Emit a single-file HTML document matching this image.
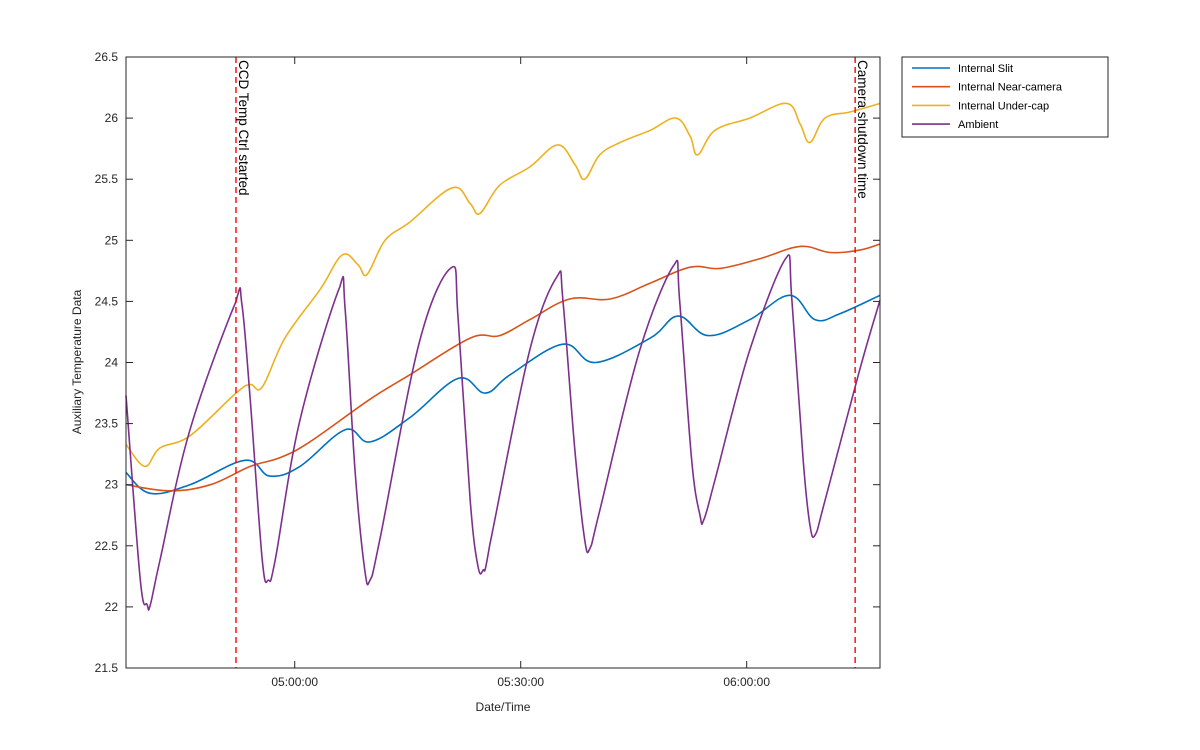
<!DOCTYPE html>
<html><head><meta charset="utf-8"><style>
body{margin:0;background:#fff}
svg{display:block;font-family:"Liberation Sans",Arial,sans-serif}
</style></head><body>
<svg id="chart" width="1200" height="750" xmlns="http://www.w3.org/2000/svg">
<rect x="0" y="0" width="1200" height="750" fill="#fff"/>
<g id="plot"></g>
</svg>
<script>
// minutes since 04:00
const ambientT=[37.6,39.5,40.4,40.8,42.1,46.1,52.2,53.0,54.1,55.7,56.5,57.4,60.7,66.0,66.7,68.0,69.3,70.0,71.3,76.6,80.9,81.7,83.3,84.3,85.0,85.9,91.2,94.9,95.6,97.2,98.5,99.2,100.5,105.8,110.5,111.1,112.7,113.8,114.3,115.8,120.4,125.3,126.0,127.5,128.4,129.1,130.4,135.0,137.7];
const ambientV=[23.73,22.22,22.02,22.01,22.38,23.45,24.50,24.47,23.69,22.38,22.22,22.38,23.53,24.62,24.43,23.12,22.30,22.22,22.55,24.18,24.78,24.35,22.87,22.34,22.30,22.51,24.10,24.71,24.51,23.28,22.55,22.48,22.79,24.10,24.81,24.51,23.20,22.75,22.71,23.04,24.10,24.86,24.51,23.20,22.67,22.59,22.87,23.94,24.51];
const slitT=[37.6,40.8,46.1,53.4,56.7,60.7,66.7,70.0,75.3,81.7,85.3,88.6,95.6,99.9,107.2,110.9,114.9,120.4,125.7,129.1,132.4,137.7];
const slitV=[23.1,22.93,23.0,23.2,23.07,23.15,23.45,23.35,23.55,23.87,23.75,23.9,24.15,24.0,24.2,24.38,24.22,24.35,24.55,24.35,24.4,24.55];
const nearT=[37.6,43.4,48.8,54.1,58.0,62.0,70.0,75.3,83.3,87.2,91.2,96.5,101.9,107.2,112.5,116.5,121.8,127.1,131.1,135.0,137.7];
const nearV=[23.0,22.95,23.0,23.15,23.22,23.35,23.7,23.9,24.2,24.22,24.35,24.52,24.52,24.65,24.78,24.77,24.85,24.95,24.9,24.92,24.97];
const capT=[37.6,40.1,42.1,46.1,52.2,54.1,55.7,58.7,63.4,66.3,68.4,69.6,72.0,75.3,80.9,83.3,84.6,87.2,91.2,94.9,97.2,98.5,100.5,103.2,107.2,110.6,112.5,113.5,115.8,120.4,125.3,127.1,128.4,130.4,133.7,137.7];
const capV=[23.33,23.15,23.3,23.4,23.75,23.82,23.8,24.2,24.6,24.88,24.8,24.72,25.0,25.15,25.43,25.3,25.22,25.45,25.6,25.78,25.62,25.5,25.7,25.8,25.9,26.0,25.85,25.7,25.9,26.0,26.12,25.95,25.8,26.0,26.05,26.12];
const yTicks=[21.5,22,22.5,23,23.5,24,24.5,25,25.5,26,26.5];
const xTicks=[60,90,120];
const xTickLabels=["05:00:00","05:30:00","06:00:00"];
const markerT=[52.2,134.4];
const markerLabels=["CCD Temp Ctrl started","Camera shutdown time"];
const seriesNames=["Internal Slit","Internal Near-camera","Internal Under-cap","Ambient"];

const X0=126,X1=880,Y0=668,Y1=57,TMIN=37.6,TMAX=137.7,VMIN=21.5,VMAX=26.5;
const sx=t=>X0+(t-TMIN)/(TMAX-TMIN)*(X1-X0);
const sy=v=>Y0-(v-VMIN)/(VMAX-VMIN)*(Y0-Y1);
const NS="http://www.w3.org/2000/svg";
const g=document.getElementById('plot');
function mk(tag,attrs,parent){const e=document.createElementNS(NS,tag);for(const k in attrs)e.setAttribute(k,attrs[k]);(parent||g).appendChild(e);return e;}
function smooth(pts){
  let d='M'+pts[0][0].toFixed(1)+','+pts[0][1].toFixed(1);
  for(let i=0;i<pts.length-1;i++){
    const p0=pts[Math.max(0,i-1)],p1=pts[i],p2=pts[i+1],p3=pts[Math.min(pts.length-1,i+2)];
    const k=0.18;
    const c1=[p1[0]+(p2[0]-p0[0])*k,p1[1]+(p2[1]-p0[1])*k];
    const c2=[p2[0]-(p3[0]-p1[0])*k,p2[1]-(p3[1]-p1[1])*k];
    c1[0]=Math.min(Math.max(c1[0],p1[0]),p2[0]);c2[0]=Math.min(Math.max(c2[0],p1[0]),p2[0]);
    d+=` C${c1[0].toFixed(1)},${c1[1].toFixed(1)} ${c2[0].toFixed(1)},${c2[1].toFixed(1)} ${p2[0].toFixed(1)},${p2[1].toFixed(1)}`;
  }
  return d;
}

const colors=["#0072BD","#D95319","#EDB120","#7E2F8E"];
const data=[[slitT,slitV],[nearT,nearV],[capT,capV],[ambientT,ambientV]];
const snames=["series-internal-slit","series-internal-near-camera","series-internal-under-cap","series-ambient"];
data.forEach((d,i)=>{
  const pts=d[0].map((t,j)=>[sx(t),sy(d[1][j])]);
  const p=mk('path',{d:smooth(pts),fill:'none',stroke:colors[i],'stroke-width':1.6});
  
  
});
markerT.forEach((t,i)=>{
  const l=mk('line',{x1:sx(t),x2:sx(t),y1:Y1,y2:Y0,stroke:'#f00','stroke-width':1.4,'stroke-dasharray':'6,4'});
  
  
  const tx=mk('text',{x:0,y:0,'font-size':13.5,fill:'#000',transform:`translate(${sx(t)+3},60) rotate(90)`});
  tx.textContent=markerLabels[i];
  
  
});
const box=mk('rect',{x:X0,y:Y1,width:X1-X0,height:Y0-Y1,fill:'none',stroke:'#262626','stroke-width':1});


yTicks.forEach(v=>{
  mk('line',{x1:X0,x2:X0+7,y1:sy(v),y2:sy(v),stroke:'#262626'});
  mk('line',{x1:X1,x2:X1-7,y1:sy(v),y2:sy(v),stroke:'#262626'});
  const t=mk('text',{x:118,y:sy(v)+4,'font-size':12,'text-anchor':'end',fill:'#262626'});
  t.textContent=String(v);
  
  
});
xTicks.forEach((m,i)=>{
  mk('line',{x1:sx(m),x2:sx(m),y1:Y0,y2:Y0-7,stroke:'#262626'});
  mk('line',{x1:sx(m),x2:sx(m),y1:Y1,y2:Y1+7,stroke:'#262626'});
  const t=mk('text',{x:sx(m),y:Y0+18,'font-size':12,'text-anchor':'middle',fill:'#262626'});
  t.textContent=xTickLabels[i];
  
  
});
const xt=mk('text',{x:503,y:711,'font-size':12,'text-anchor':'middle',fill:'#262626'});
xt.textContent="Date/Time";


const yt=mk('text',{x:0,y:0,'font-size':12,'text-anchor':'middle',fill:'#262626',transform:'translate(81,362) rotate(-90)'});
yt.textContent="Auxiliary Temperature Data";


const lg=mk('g',{});


mk('rect',{x:902,y:57,width:206,height:80,fill:'#fff',stroke:'#262626'},lg);
seriesNames.forEach((n,i)=>{
  const y=68+i*18.7;
  const e=mk('g',{},lg);
  
  
  mk('line',{x1:912,x2:950,y1:y,y2:y,stroke:colors[i],'stroke-width':1.6},e);
  const t=mk('text',{x:958,y:y+4,'font-size':11,fill:'#000'},e);
  t.textContent=n;
});
</script>
</body></html>
